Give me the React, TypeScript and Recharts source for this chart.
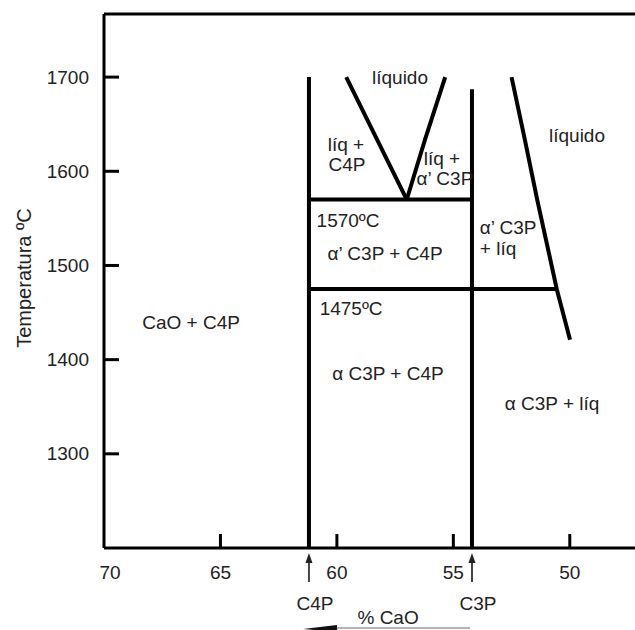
import React from 'react'
import { LineChart, Line, XAxis, YAxis, ReferenceLine, ReferenceDot } from 'recharts'

// axis ticks
const xTicks = [70, 65, 60, 55, 50]
const yTicks = [1300, 1400, 1500, 1600, 1700]

// compounds marked under the axis
const compounds = ['C4P', 'C3P']
const compoundCaO = [61.2, 54.2]

// phase boundaries (% CaO, temperature ºC)
const c4pCaO = [61.2, 61.2]
const c4pT = [1200, 1700]
const c3pCaO = [54.2, 54.2]
const c3pT = [1200, 1687]
const eutecticCaO = [61.2, 54.2]
const eutecticT = [1570, 1570]
const transitionCaO = [61.2, 50.55]
const transitionT = [1475, 1475]
const liqC4pCaO = [59.6, 58.3, 57.0]
const liqC4pT = [1700, 1635, 1570]
const liqC3pCaO = [55.35, 56.2, 57.0]
const liqC3pT = [1700, 1635, 1570]
const liqRightCaO = [52.5, 51.95, 51.4, 50.55, 49.99]
const liqRightT = [1700, 1636, 1570, 1474, 1421]

// field labels
const regionText = [
  'líquido', 'líquido', 'líq +', 'C4P', 'líq +', 'α’ C3P', '1570ºC', 'α’ C3P + C4P',
  'α’ C3P', '+ líq', '1475ºC', 'CaO + C4P', 'α C3P + C4P', 'α C3P + líq',
]
const regionCaO = [57.29, 49.69, 59.61, 59.57, 55.49, 55.36, 59.52, 57.93, 52.65, 53.08, 59.39, 66.26, 57.81, 50.76]
const regionT = [1700, 1638, 1629, 1607, 1614, 1593, 1548, 1513, 1541, 1518, 1455, 1440, 1386, 1354]

const zip = (xs: number[], ts: number[]) => xs.map((x, i) => ({ x, t: ts[i] }))

const boundaries = [
  zip(c4pCaO, c4pT),
  zip(c3pCaO, c3pT),
  zip(eutecticCaO, eutecticT),
  zip(transitionCaO, transitionT),
  zip(liqC4pCaO, liqC4pT),
  zip(liqC3pCaO, liqC3pT),
  zip(liqRightCaO, liqRightT),
]

const FONT = '"Liberation Sans", Arial, sans-serif'
const TOP_T = 1767
const FS = 19

const XTick = (props: any) => {
  const { x, y, payload } = props
  const idx = compoundCaO.indexOf(payload.value)
  if (idx >= 0) {
    return (
      <g>
        <line x1={x} y1={y + 34} x2={x} y2={y + 12} stroke="#444" strokeWidth={2} />
        <path d={`M${x},${y + 5} L${x - 3.5},${y + 15} L${x + 3.5},${y + 15} Z`} fill="#222" />
        <text x={x + 6} y={y + 55} textAnchor="middle" dominantBaseline="central"
          fontFamily={FONT} fontSize={FS} fill="#222">{compounds[idx]}</text>
      </g>
    )
  }
  const first = payload.value === xTicks[0]
  return (
    <g>
      {!first && <line x1={x} y1={y} x2={x} y2={y - 14} stroke="#000" strokeWidth={3} />}
      <text x={first ? x + 6 : x} y={y + 24} textAnchor="middle" dominantBaseline="central"
        fontFamily={FONT} fontSize={FS} fill="#222">{payload.value}</text>
    </g>
  )
}

const YTick = (props: any) => {
  const { x, y, payload } = props
  return (
    <g>
      <line x1={x} y1={y} x2={x + 15} y2={y} stroke="#000" strokeWidth={3} />
      <text x={x - 15} y={y} textAnchor="end" dominantBaseline="central"
        fontFamily={FONT} fontSize={FS} fill="#222">{payload.value}</text>
    </g>
  )
}

const XLabel = (props: any) => {
  const { x, y, width } = props.viewBox
  const cx = x + width * 0.535
  return (
    <g>
      <text x={cx} y={y + 69} textAnchor="middle" dominantBaseline="central"
        fontFamily={FONT} fontSize={FS} fill="#222">% CaO</text>
      <path d={`M${cx - 85},${y + 81} L${cx - 51},${y + 77} L${cx - 51},${y + 84} Z`} fill="#111" />
      <line x1={cx - 51} y1={y + 80} x2={cx + 82} y2={y + 80} stroke="#999" strokeWidth={1.5} />
    </g>
  )
}

const YLabel = (props: any) => {
  const { y, height } = props.viewBox
  const cy = y + height / 2 - 3
  return (
    <text x={24} y={cy} transform={`rotate(-90, 24, ${cy})`} textAnchor="middle" dominantBaseline="central"
      fontFamily={FONT} fontSize={20} fill="#222">Temperatura ºC</text>
  )
}

export default function App() {
  return (
    <div style={{ position: 'absolute', left: 0, top: 0, background: '#fff' }}>
      <LineChart width={635} height={630} margin={{ top: 14, right: 0, bottom: 0, left: 0 }}>
        <XAxis
          dataKey="x"
          type="number"
          domain={[47.2, 70]}
          reversed
          allowDataOverflow
          ticks={[...xTicks, ...compoundCaO]}
          interval={0}
          tickLine={false}
          tickSize={0}
          tickMargin={0}
          tick={XTick}
          axisLine={{ stroke: '#000', strokeWidth: 3 }}
          height={82}
          label={{ content: XLabel }}
        />
        <YAxis
          type="number"
          domain={[1200, TOP_T]}
          allowDataOverflow
          ticks={yTicks}
          interval={0}
          tickLine={false}
          tickSize={0}
          tickMargin={0}
          tick={YTick}
          axisLine={{ stroke: '#000', strokeWidth: 3 }}
          width={104}
          label={{ content: YLabel }}
        />
        <ReferenceLine y={TOP_T} stroke="#000" strokeWidth={3} />
        {boundaries.map((pts, i) => (
          <Line
            key={i}
            data={pts}
            dataKey="t"
            type="linear"
            stroke="#000"
            strokeWidth={4}
            dot={false}
            activeDot={false}
            isAnimationActive={false}
          />
        ))}
        {regionText.map((txt, i) => (
          <ReferenceDot
            key={'l' + i}
            x={regionCaO[i]}
            y={regionT[i]}
            r={0}
            fill="none"
            stroke="none"
            label={{ value: txt, position: 'center', fill: '#222', fontSize: FS, fontFamily: FONT }}
          />
        ))}
      </LineChart>
    </div>
  )
}
